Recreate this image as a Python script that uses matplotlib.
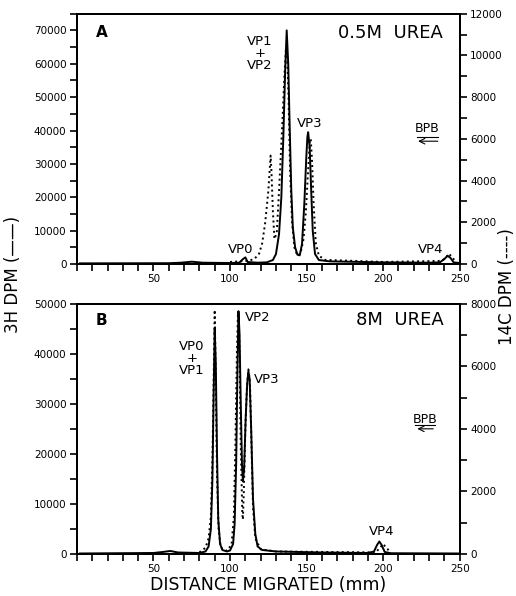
import matplotlib
matplotlib.use('Agg')
import matplotlib.pyplot as plt
from matplotlib.ticker import MultipleLocator

plt.rcParams['font.family'] = 'DejaVu Sans'

# panel A, 0.5M urea: 3H (solid, left axis) and 14C (dotted, right axis)
a_h_x = [2, 60, 68, 75, 82, 100, 106, 108.5, 110, 111.5, 118, 124, 128, 130, 132, 133.5, 134.8, 136, 137, 138,
         139, 140, 141, 142.5, 144, 145.5, 147, 148.5, 149.8, 150.5, 151, 152, 153, 154, 155.5, 158, 165,
         200, 230, 237, 240, 242, 244, 246, 250]
a_h_y = [200, 250, 400, 700, 400, 300, 400, 1500, 2000, 600, 400, 500, 1200, 3000, 9000, 20000, 38000, 58000,
         70000, 60000, 40000, 22000, 11000, 5000, 2800, 2600, 6000, 18000, 32000, 38000, 39500, 35000, 22000,
         10000, 3000, 1200, 800, 500, 400, 500, 1500, 2500, 1800, 500, 300]
a_c_x = [100, 112, 116, 119, 121, 123, 125, 126.5, 127, 128, 129, 130.5, 132, 134, 135.5, 136.5, 137.3, 138.2,
         139.2, 140.5, 142, 144, 146, 148, 149.5, 151, 152, 152.7, 153.5, 154.5, 156, 158, 162, 200, 238, 241,
         243, 245, 248]
a_c_y = [100, 150, 250, 500, 1000, 2000, 3500, 5200, 4500, 2500, 1200, 1500, 3500, 6500, 9000, 10300, 10000,
         8000, 4500, 2000, 800, 400, 500, 1200, 2500, 4500, 5800, 6000, 5000, 3000, 1000, 400, 200, 100, 150,
         300, 500, 300, 100]

# panel B, 8M urea
b_h_x = [2, 50, 56, 61, 66, 80, 84, 86, 87.5, 88.5, 89.3, 90, 90.7, 91.5, 92.3, 93.5, 95, 98, 100, 102, 103,
         104, 104.8, 105.5, 106.2, 107, 107.8, 108.4, 109.2, 110.2, 111.2, 112, 112.8, 113.8, 115, 116.5, 118,
         121, 130, 160, 190, 194, 196, 197.5, 199, 201, 205, 250]
b_h_y = [100, 200, 400, 600, 300, 200, 500, 1500, 5000, 15000, 32000, 45000, 38000, 20000, 7000, 2000, 800,
         500, 700, 2000, 6000, 18000, 36000, 48500, 44000, 30000, 18000, 14500, 17000, 27000, 34000, 36500,
         35000, 25000, 11000, 4000, 1500, 800, 500, 300, 200, 500, 1800, 2500, 1800, 400, 150, 100]
b_c_x = [80, 84, 86, 87.5, 88.5, 89.3, 90, 90.7, 91.5, 92.5, 94, 98, 101, 102.5, 103.5, 104.5, 105.2, 106,
         107, 108, 108.4, 109, 110, 111, 112, 113, 114, 115, 116.5, 120, 130, 195, 198, 200, 202, 205]
b_c_y = [50, 200, 500, 1200, 3000, 5500, 7800, 5500, 2500, 800, 200, 100, 300, 1200, 3500, 6500, 7700, 7000,
         3500, 1300, 1100, 2000, 4000, 5300, 5900, 5500, 3500, 1500, 500, 150, 80, 50, 200, 320, 200, 50]

x_major = [50, 100, 150, 200, 250]

fig = plt.figure(figsize=(5.16, 5.96), dpi=100)
axA = fig.add_axes([0.149, 0.557, 0.742, 0.42])
axB = fig.add_axes([0.149, 0.0705, 0.742, 0.42])


def style(ax, ax2, ymax_l, ymax_r, step_r):
    ax.set_xlim(0, 250)
    ax.set_ylim(0, ymax_l)
    ax2.set_ylim(0, ymax_r)
    ax.set_xticks(x_major)
    ax.xaxis.set_minor_locator(MultipleLocator(10))
    ax.yaxis.set_major_locator(MultipleLocator(10000))
    ax.yaxis.set_minor_locator(MultipleLocator(5000))
    ax2.yaxis.set_major_locator(MultipleLocator(step_r))
    ax2.yaxis.set_minor_locator(MultipleLocator(step_r / 2))
    for a in (ax, ax2):
        a.tick_params(which='both', direction='out', length=5, width=1.2, labelsize=7.5, pad=2.5)
        for s in a.spines.values():
            s.set_linewidth(1.4)


axA2 = axA.twinx()
axA.plot(a_h_x, a_h_y, color='black', lw=1.4)
axA2.plot(a_c_x, a_c_y, color='black', lw=1.4, ls=':')
style(axA, axA2, 75000, 12000, 2000)

axB2 = axB.twinx()
axB.plot(b_h_x, b_h_y, color='black', lw=1.4)
axB2.plot(b_c_x, b_c_y, color='black', lw=1.4, ls=':')
style(axB, axB2, 50000, 8000, 2000)

# panel A labels
axA.text(16, 69300, 'A', fontsize=11, fontweight='bold', ha='center', va='center')
axA.text(239, 69300, '0.5M  UREA', fontsize=13, ha='right', va='center')
axA.text(119.5, 63000, 'VP1\n+\nVP2', fontsize=9.5, ha='center', va='center', linespacing=0.9)
axA.text(152, 42000, 'VP3', fontsize=9.5, ha='center', va='center')
axA.text(107, 4500, 'VP0', fontsize=9.5, ha='center', va='center')
axA.text(231, 4500, 'VP4', fontsize=9.5, ha='center', va='center')
axA.text(229, 40500, 'BPB', fontsize=9, ha='center', va='center')
axA.plot([222, 236], [38200, 38200], color='black', lw=0.8)
axA.annotate('', xy=(221, 36800), xytext=(237.5, 36800),
             arrowprops=dict(arrowstyle='->', lw=0.8, color='black'))

# panel B labels
axB.text(16, 46600, 'B', fontsize=11, fontweight='bold', ha='center', va='center')
axB.text(239.5, 46800, '8M  UREA', fontsize=13, ha='right', va='center')
axB.text(75, 39000, 'VP0\n+\nVP1', fontsize=9.5, ha='center', va='center', linespacing=0.9)
axB.text(109.7, 47300, 'VP2', fontsize=9.5, ha='left', va='center')
axB.text(115.5, 34800, 'VP3', fontsize=9.5, ha='left', va='center')
axB.text(199, 4400, 'VP4', fontsize=9.5, ha='center', va='center')
axB.text(227.5, 26800, 'BPB', fontsize=9, ha='center', va='center')
axB.plot([221, 234], [25800, 25800], color='black', lw=0.8)
axB.annotate('', xy=(220.5, 25000), xytext=(234.5, 25000),
             arrowprops=dict(arrowstyle='->', lw=0.8, color='black'))

fig.text(0.025, 0.54, '3H DPM (\u2014\u2014)', rotation=90, fontsize=12, ha='center', va='center')
fig.text(0.982, 0.52, '14C DPM (----)', rotation=90, fontsize=12, ha='center', va='center')
fig.text(0.52, 0.018, 'DISTANCE MIGRATED (mm)', fontsize=12.5, ha='center', va='center')

fig.savefig('out.png', dpi=100)
